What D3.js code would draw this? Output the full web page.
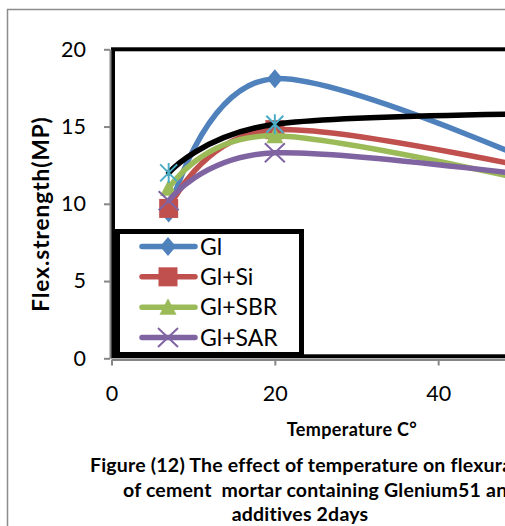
<!DOCTYPE html>
<html>
<head>
<meta charset="utf-8">
<script src="https://cdn.jsdelivr.net/npm/d3@7"></script>
<style>
  html, body { margin: 0; padding: 0; background: #fff; overflow: hidden; }
  svg { display: block; }
</style>
</head>
<body>
<script>
// Flexural strength of cement mortar (2 days) against curing temperature
const temperatures = [7, 20, 60];
const glValues     = [9.4, 18.1, 10.8];
const glSiValues   = [9.7, 14.8, 11.35];
const glSbrValues  = [11.0, 14.4, 10.45];
const glSarValues  = [10.2, 13.3, 11.25];
const plainValues  = [12.0, 15.15, 15.87];
const seriesNames  = ["Gl", "Gl+Si", "Gl+SBR", "Gl+SAR"];
const yTickValues  = [0, 5, 10, 15, 20];
const xTickValues  = [0, 20, 40];
const yTitle = "Flex.strength(MP)";
const xTitle = "Temperature C°";
const captionLines = [
  "Figure (12) The effect of temperature on flexural",
  "of cement  mortar containing Glenium51 and",
  "additives 2days"
];

const W = 505, H = 526;
const FONT = "Lato, 'Open Sans', sans-serif";

const series = [
  { name: seriesNames[0], values: glValues,    color: "#4F81BD", marker: "diamond",  markColor: "#4F81BD" },
  { name: seriesNames[1], values: glSiValues,  color: "#C0504D", marker: "square",   markColor: "#C0504D" },
  { name: seriesNames[2], values: glSbrValues, color: "#9BBB59", marker: "triangle", markColor: "#9BBB59" },
  { name: seriesNames[3], values: glSarValues, color: "#8064A2", marker: "cross",    markColor: "#8064A2" },
  { name: null,           values: plainValues, color: "#000000", marker: "star",     markColor: "#4BACC6" }
];

const svg = d3.select("body").append("svg")
  .attr("width", W).attr("height", H)
  .style("font-family", FONT);

svg.append("rect").attr("width", W).attr("height", H).attr("fill", "#fff");

// outer chart frame
svg.append("path")
  .attr("d", `M7.5,${H} V9.5 H${W + 10}`)
  .attr("fill", "none").attr("stroke", "#8c8c8c").attr("stroke-width", 1.5);

const x = d3.scaleLinear().domain([0, 60]).range([111.5, 601.5]);
const y = d3.scaleLinear().domain([0, 20]).range([358.3, 49.3]);

// plot-area border
svg.append("rect")
  .attr("x", 113).attr("y", y(20))
  .attr("width", 700).attr("height", y(0) - y(20) - 2)
  .attr("fill", "none").attr("stroke", "#000").attr("stroke-width", 4);

// axes
const yAxis = svg.append("g")
  .attr("transform", "translate(110,0)")
  .call(d3.axisLeft(y).tickValues(yTickValues).tickSize(6).tickSizeOuter(0).tickPadding(18));
const xAxis = svg.append("g")
  .attr("transform", "translate(0,359.5)")
  .call(d3.axisBottom(x).tickValues(xTickValues).tickSize(6).tickSizeOuter(0).tickPadding(20));
[yAxis, xAxis].forEach(g => {
  g.select(".domain").attr("stroke", "#868686").attr("stroke-width", 2);
  g.selectAll(".tick line").attr("stroke", "#868686").attr("stroke-width", 2);
  g.selectAll(".tick text").attr("fill", "#000")
    .style("font-family", FONT).style("font-size", "21.5px");
});

// series lines and markers
const line = d3.line()
  .x((d, i) => x(temperatures[i]))
  .y(d => y(d))
  .curve(d3.curveCardinal.tension(0));

function drawMarker(g, kind, color, cx, cy) {
  const m = g.append("g").attr("transform", `translate(${cx},${cy})`);
  if (kind === "diamond") {
    m.append("path").attr("d", "M0,-9.5L8,0L0,9.5L-8,0Z").attr("fill", color);
  } else if (kind === "square") {
    m.append("rect").attr("x", -9.5).attr("y", -9.5).attr("width", 19).attr("height", 19).attr("fill", color);
  } else if (kind === "triangle") {
    m.append("path").attr("d", "M0,-9L8.5,7.5L-8.5,7.5Z").attr("fill", color);
  } else if (kind === "cross") {
    m.append("path").attr("d", "M-10,-9.5L10,9.5M-10,9.5L10,-9.5")
      .attr("stroke", color).attr("stroke-width", 2).attr("fill", "none");
  } else if (kind === "star") {
    m.append("path").attr("d", "M-8.5,-8.5L8.5,8.5M-8.5,8.5L8.5,-8.5M0,-10V10")
      .attr("stroke", color).attr("stroke-width", 2).attr("fill", "none");
  }
}

const plot = svg.append("g");
series.forEach(s => {
  plot.append("path")
    .attr("d", line(s.values))
    .attr("fill", "none")
    .attr("stroke", s.color)
    .attr("stroke-width", 5.5)
    .attr("stroke-linecap", "round")
    .attr("stroke-linejoin", "round");
  s.values.forEach((v, i) => drawMarker(plot, s.marker, s.markColor, x(temperatures[i]), y(v)));
});

// legend
const legend = svg.append("g");
legend.append("rect")
  .attr("x", 117.5).attr("y", 231.5).attr("width", 184).attr("height", 123)
  .attr("fill", "#fff").attr("stroke", "#000").attr("stroke-width", 5);
const legendY = d3.scalePoint().domain(seriesNames).range([246.5, 337.5]);
series.filter(s => s.name).forEach(s => {
  const ly = legendY(s.name);
  legend.append("line")
    .attr("x1", 142).attr("x2", 195).attr("y1", ly).attr("y2", ly)
    .attr("stroke", s.color).attr("stroke-width", 5.5).attr("stroke-linecap", "round");
  drawMarker(legend, s.marker, s.markColor, 168, ly);
  legend.append("text")
    .attr("x", 200).attr("y", ly).attr("dy", "0.36em")
    .style("font-size", "23px").text(s.name);
});

// axis titles
svg.append("text")
  .attr("transform", `translate(49,214) rotate(-90)`)
  .attr("text-anchor", "middle")
  .style("font-weight", "bold").style("font-size", "22.5px")
  .style("letter-spacing", "1px")
  .text(yTitle);
svg.append("text")
  .attr("x", 352).attr("y", 436)
  .attr("text-anchor", "middle")
  .style("font-weight", "bold").style("font-size", "18px")
  .style("letter-spacing", "0.35px")
  .text(xTitle);

// figure caption
const caption = svg.append("g")
  .style("font-weight", "bold").style("font-size", "19.5px")
  .style("letter-spacing", "0.2px").style("white-space", "pre");
caption.append("text").attr("x", 90).attr("y", 472).attr("xml:space", "preserve").text(captionLines[0]);
caption.append("text").attr("x", 123).attr("y", 497).attr("xml:space", "preserve").text(captionLines[1]);
caption.append("text").attr("x", 300).attr("y", 521).attr("text-anchor", "middle")
  .attr("xml:space", "preserve").text(captionLines[2]);
</script>
</body>
</html>
